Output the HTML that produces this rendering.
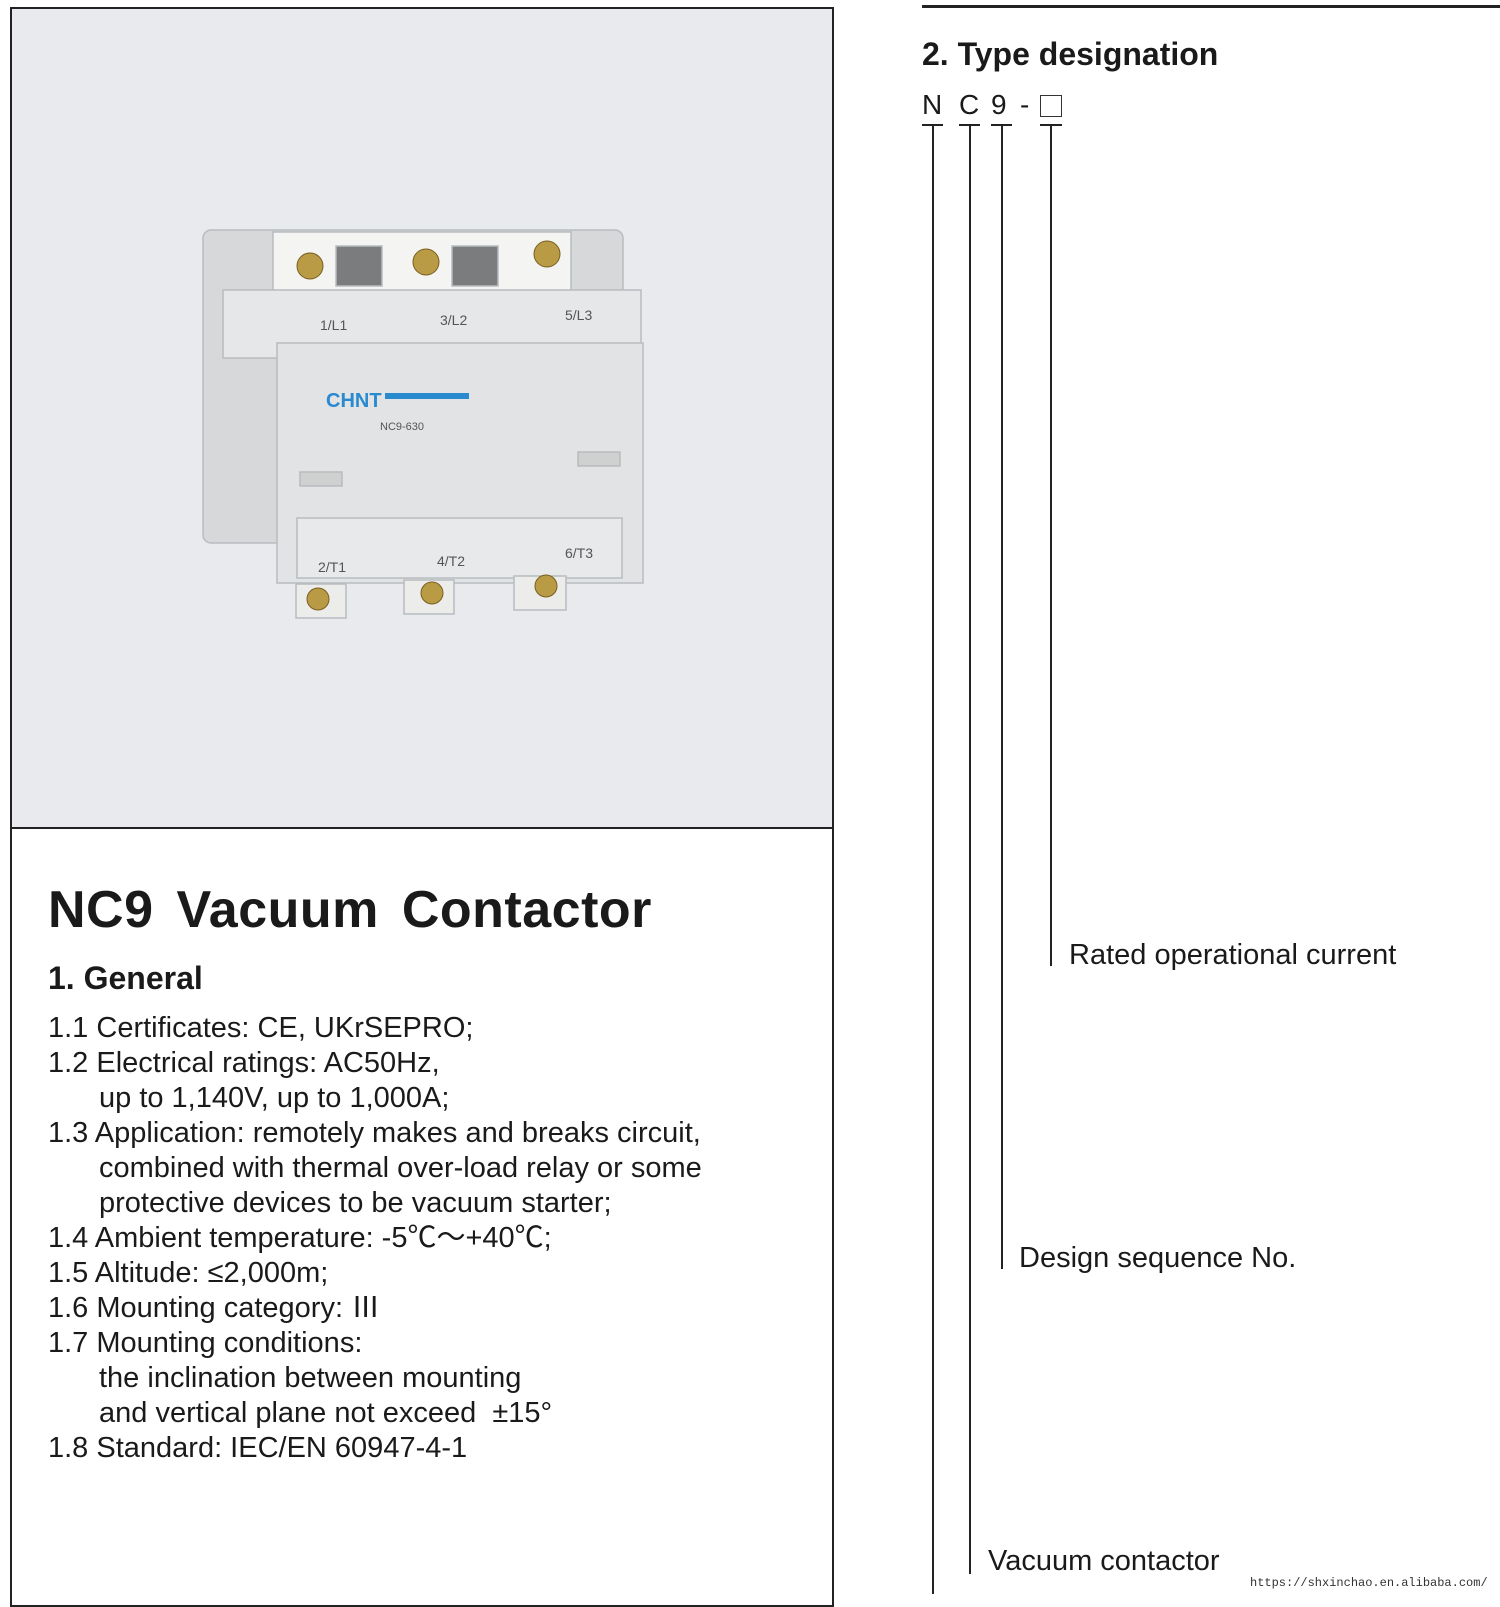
<!DOCTYPE html>
<html><head><meta charset="utf-8"><style>
html,body{margin:0;padding:0;background:#fff;}
body{width:1500px;height:1593px;position:relative;overflow:hidden;font-family:"Liberation Sans","Noto Sans CJK SC",sans-serif;color:#1a1a1a;}
.a{position:absolute;white-space:nowrap;}
.l{position:absolute;background:#222;}
.li{font-size:29px;letter-spacing:0px;line-height:35px;}
</style></head><body>
<!-- left panel -->
<div class="a" style="left:10px;top:7px;width:824px;height:1600px;border:2px solid #222;box-sizing:border-box;"></div>
<div class="a" style="left:12px;top:9px;width:820px;height:819px;background:#e8eaee;"></div>
<div class="l" style="left:10px;top:827px;width:824px;height:2px;"></div>
<svg class="a" style="left:0;top:0" width="840" height="830">
 <g stroke="#b8bcc0" stroke-width="1.5">
  <rect x="203" y="230" width="420" height="313" rx="8" fill="#d6d8da"/>
  <rect x="273" y="232" width="298" height="62" fill="#f4f4f2"/>
  <rect x="336" y="246" width="46" height="40" fill="#7a7c7e"/>
  <rect x="452" y="246" width="46" height="40" fill="#7a7c7e"/>
  <rect x="223" y="290" width="418" height="68" fill="#e6e7e8"/>
  <rect x="277" y="343" width="366" height="240" fill="#e2e3e4"/>
  <rect x="297" y="518" width="325" height="60" fill="#e8e9ea"/>
  <rect x="296" y="584" width="50" height="34" fill="#ececea"/>
  <rect x="404" y="580" width="50" height="34" fill="#ececea"/>
  <rect x="514" y="576" width="52" height="34" fill="#ececea"/>
  <rect x="300" y="472" width="42" height="14" fill="#cfd0d0"/>
  <rect x="578" y="452" width="42" height="14" fill="#cfd0d0"/>
 </g>
 <g fill="#b99a45" stroke="#7a6020">
  <circle cx="310" cy="266" r="13"/><circle cx="426" cy="262" r="13"/><circle cx="547" cy="254" r="13"/>
  <circle cx="318" cy="599" r="11"/><circle cx="432" cy="593" r="11"/><circle cx="546" cy="586" r="11"/>
 </g>
 <g font-family="Liberation Sans" font-size="14" fill="#555">
  <text x="320" y="330">1/L1</text><text x="440" y="325">3/L2</text><text x="565" y="320">5/L3</text>
  <text x="318" y="572">2/T1</text><text x="437" y="566">4/T2</text><text x="565" y="558">6/T3</text>
  <text x="380" y="430" font-size="11">NC9-630</text>
 </g>
 <text x="326" y="407" font-family="Liberation Sans" font-weight="bold" font-size="20" fill="#2a8ad0">CHNT</text>
 <rect x="385" y="393" width="84" height="6" fill="#2a8ad0"/>
</svg>
<div class="a" style="left:48px;top:880px;font-size:52px;font-weight:bold;letter-spacing:0.5px;word-spacing:8px;">NC9 Vacuum Contactor</div>
<div class="a" style="left:48px;top:960px;font-size:32px;font-weight:bold;">1. General</div>
<div class="a li" style="left:48px;top:1011px;">
1.1 Certificates: CE, UKrSEPRO;<br>
1.2 Electrical ratings: AC50Hz,<br>
<span style="padding-left:51px">up to 1,140V, up to 1,000A;</span><br>
1.3 Application: remotely makes and breaks circuit,<br>
<span style="padding-left:51px">combined with thermal over-load relay or some</span><br>
<span style="padding-left:51px">protective devices to be vacuum starter;</span><br>
1.4 Ambient temperature: -5℃～+40℃;<br>
1.5 Altitude: ≤2,000m;<br>
1.6 Mounting category: Ⅲ<br>
1.7 Mounting conditions:<br>
<span style="padding-left:51px">the inclination between mounting</span><br>
<span style="padding-left:51px">and vertical plane not exceed &nbsp;±15°</span><br>
1.8 Standard: IEC/EN 60947-4-1
</div>
<!-- right -->
<div class="l" style="left:922px;top:5px;width:578px;height:3px;"></div>
<div class="a" style="left:922px;top:36px;font-size:32px;font-weight:bold;">2. Type designation</div>
<div class="a" style="left:922px;top:89px;font-size:28px;">N</div>
<div class="a" style="left:959px;top:89px;font-size:28px;">C</div>
<div class="a" style="left:991px;top:89px;font-size:28px;">9</div>
<div class="a" style="left:1020px;top:89px;font-size:28px;">-</div>
<div class="a" style="left:1040px;top:95px;width:20px;height:20px;border:1.5px solid #333;"></div>
<div class="l" style="left:922px;top:124px;width:21px;height:2px;"></div>
<div class="l" style="left:932px;top:124px;width:2px;height:1470px;"></div>
<div class="l" style="left:959px;top:124px;width:21px;height:2px;"></div>
<div class="l" style="left:969px;top:124px;width:2px;height:1450px;"></div>
<div class="l" style="left:991px;top:124px;width:21px;height:2px;"></div>
<div class="l" style="left:1001px;top:124px;width:2px;height:1145px;"></div>
<div class="l" style="left:1040px;top:124px;width:22px;height:2px;"></div>
<div class="l" style="left:1050px;top:124px;width:2px;height:842px;"></div>
<div class="a li" style="left:1069px;top:938px;">Rated operational current</div>
<div class="a li" style="left:1019px;top:1241px;">Design sequence No.</div>
<div class="a li" style="left:988px;top:1544px;">Vacuum contactor</div>
<div class="a" style="left:1250px;top:1576px;font-family:'Liberation Mono',monospace;font-size:12px;color:#333;">https://shxinchao.en.alibaba.com/</div>
</body></html>
